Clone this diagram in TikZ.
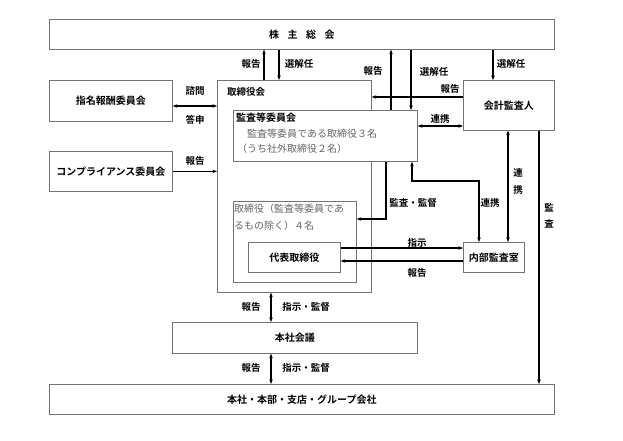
\documentclass[tikz,border=0pt]{standalone}
\usepackage{fontspec}
\setmainfont{Noto Sans CJK JP}[BoldFont={Noto Sans CJK JP Bold}]
\usetikzlibrary{arrows.meta}
\begin{document}
\begin{tikzpicture}[x=1pt,y=-1pt,
 box/.style={draw=black!55, line width=0.7pt, fill=white, inner sep=0pt, anchor=north west, font=\bfseries\fontsize{10}{12}\selectfont},
 arr/.style={line width=1.1pt, -{Stealth[length=4.5pt,width=3.5pt]}},
 darr/.style={line width=1.1pt, {Stealth[length=4.5pt,width=3.5pt]}-{Stealth[length=4.5pt,width=3.5pt]}},
 lab/.style={font=\bfseries\fontsize{9.5}{11}\selectfont, inner sep=1pt},
 gtxt/.style={font=\fontsize{10}{15}\selectfont, text=black!60, inner sep=0pt, anchor=north west, align=left}
]
\useasboundingbox (0,0) rectangle (623,441);
% columns / rows
\coordinate (c264) at (264,0);
\coordinate (c279) at (279,0);
\coordinate (c391) at (391,0);
\coordinate (c411) at (411,0);
\coordinate (c493) at (493,0);
\coordinate (c508) at (508,0);
\coordinate (c539) at (539,0);
\coordinate (c386) at (386,0);
\coordinate (c479) at (479,0);
\coordinate (c412) at (412,0);
\coordinate (c271) at (271,0);
\coordinate (r97) at (0,97);
\coordinate (r106) at (0,106);
\coordinate (r126) at (0,126);
\coordinate (r181) at (0,181);
\coordinate (r219) at (0,219);
\coordinate (r248) at (0,248);
\coordinate (r261) at (0,261);
% boxes
\node[box, minimum width=505pt, minimum height=30pt] (kabu) at (49,19) {株\hspace{8.5pt}主\hspace{8.5pt}総\hspace{8.5pt}会};
\node[box, minimum width=123pt, minimum height=41pt] (shimei) at (49,80) {指名報酬委員会};
\node[box, minimum width=123pt, minimum height=40pt] (comp) at (49,151) {コンプライアンス委員会};
\node[box, minimum width=154pt, minimum height=212pt] (tori) at (217,80) {};
\node[lab, anchor=west] (toriT) at (226,92) {取締役会};
\node[box, minimum width=184pt, minimum height=51pt] (kansa) at (233,110) {};
\node[lab, anchor=west, font=\bfseries\fontsize{10}{12}\selectfont, inner sep=0pt] (kansaT) at (236,118) {監査等委員会};
\node[gtxt] (kansaG) at (237,128.5) {\hspace{1em}監査等委員である取締役３名\\（うち社外取締役２名）};
\node[box, minimum width=123pt, minimum height=81pt] (torishimari) at (233,201) {};
\node[gtxt, font=\fontsize{10}{17}\selectfont] (torishimariG) at (234,203.5) {取締役（監査等委員であ\\るもの除く）４名};
\node[box, minimum width=92pt, minimum height=30pt] (daihyo) at (248,242) {代表取締役};
\node[box, minimum width=91pt, minimum height=50pt] (kaikei) at (463,80) {会計監査人};
\node[box, minimum width=61pt, minimum height=30pt] (naibu) at (463,242) {内部監査室};
\node[box, minimum width=245pt, minimum height=31pt] (honsha) at (172,322) {本社会議};
\node[box, minimum width=505pt, minimum height=30pt] (group) at (49,384) {本社・本部・支店・グループ会社};
% connectors
\draw[arr] (c264 |- tori.north) -- (c264 |- kabu.south);
\draw[arr] (c279 |- kabu.south) -- (c279 |- tori.north);
\draw[darr] (shimei.east |- r106) -- (tori.west |- r106);
\draw[arr] (comp.east) -- (comp.east -| tori.west);
\draw[arr] (c391 |- kansa.north) -- (c391 |- kabu.south);
\draw[arr] (c411 |- kabu.south) -- (c411 |- kansa.north);
\draw[arr] (c493 |- kabu.south) -- (c493 |- kaikei.north);
\draw[arr] (kaikei.west |- r97) -- (tori.east |- r97);
\draw[darr] (kaikei.west |- r126) -- (kansa.east |- r126);
\draw[darr] (c508 |- kaikei.south) -- (c508 |- naibu.north);
\draw[arr] (c539 |- kaikei.south) -- (c539 |- group.north);
\draw[arr] (c386 |- kansa.south) |- (torishimari.east |- r219);
\draw[darr] (c479 |- naibu.north) |- (c412 |- r181) -- (c412 |- kansa.south);
\draw[arr] (daihyo.east |- r248) -- (naibu.west |- r248);
\draw[arr] (naibu.west |- r261) -- (daihyo.east |- r261);
\draw[darr] (c271 |- tori.south) -- (c271 |- honsha.north);
\draw[darr] (c271 |- honsha.south) -- (c271 |- group.north);
% labels
\node[lab] (l1) at (251,64) {報告};
\node[lab] (l2) at (299,64) {選解任};
\node[lab] (l3) at (195,91) {諮問};
\node[lab] (l4) at (195,120) {答申};
\node[lab] (l5) at (195,161) {報告};
\node[lab] (l6) at (373,71) {報告};
\node[lab] (l7) at (434,72) {選解任};
\node[lab] (l8) at (511,64) {選解任};
\node[lab] (l9) at (450,89) {報告};
\node[lab] (l10) at (440,119) {連携};
\node[lab, align=center, font=\bfseries\fontsize{9.5}{17}\selectfont] (l11) at (518,181) {連\\携};
\node[lab, align=center, font=\bfseries\fontsize{9.5}{16}\selectfont] (l12) at (549,216) {監\\査};
\node[lab] (l13) at (413,203) {監査・監督};
\node[lab] (l14) at (490,203) {連携};
\node[lab] (l15) at (417,243) {指示};
\node[lab] (l16) at (417,273) {報告};
\node[lab] (l17) at (251,307) {報告};
\node[lab] (l18) at (306,307) {指示・監督};
\node[lab] (l19) at (251,368) {報告};
\node[lab] (l20) at (306,368) {指示・監督};
\end{tikzpicture}
\end{document}
